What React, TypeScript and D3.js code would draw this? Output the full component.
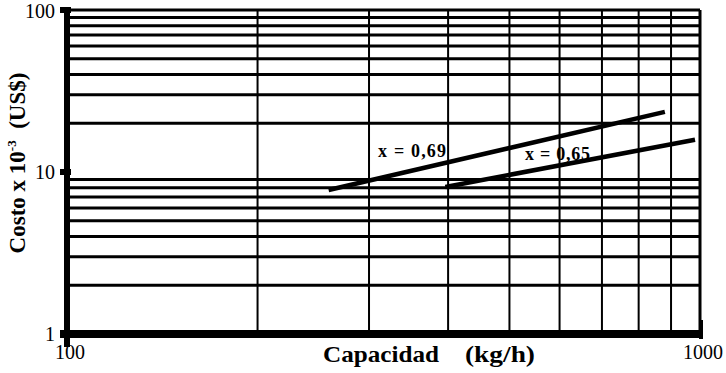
import React from 'react';
import * as d3 from 'd3';

// capacity (kg/h) vs cost x 10^-3 (US$), log-log
const xGrid = [200, 300, 400, 500, 600, 700, 800, 900, 1000];
const yGrid = [2, 3, 4, 5, 6, 7, 8, 9, 20, 30, 40, 50, 60, 70, 80, 90, 100];
const yTickLabels = [1, 10, 100];
const xTickLabels = [100, 1000];

const line69 = [[259, 7.74], [880, 23.5]];
const line65 = [[396, 8.08], [982, 15.8]];
const lineLabels = [
  {text: 'x = 0,69', at: [310, 12.4], len: 68},
  {text: 'x = 0,65', at: [529, 11.9], len: 65},
];

export default function App() {
  const W = 726, H = 373;
  const x = d3.scaleLog().domain([100, 1000]).range([67, 700]);
  const y = d3.scaleLog().domain([1, 100]).range([334, 10]);
  const line = d3.line<number[]>().x(d => x(d[0])).y(d => y(d[1]));
  const font = "'Liberation Serif', 'Times New Roman', serif";

  return (
    <svg width={W} height={H} style={{position: 'absolute', left: 0, top: 0, background: '#fff'}}
         fontFamily={font}>
      <rect width={W} height={H} fill="#fff"/>
      {/* vertical grid */}
      {xGrid.map(v => (
        <line key={'vx' + v} x1={x(v)} x2={x(v)} y1={y(100)} y2={y(1)}
              stroke="#000" strokeWidth={v === 1000 ? 3 : 2}/>
      ))}
      {/* horizontal grid */}
      {yGrid.map(v => (
        <line key={'hy' + v} x1={x(100)} x2={x(1000)} y1={y(v)} y2={y(v)}
              stroke="#000" strokeWidth={3}/>
      ))}
      {/* axes */}
      <line x1={x(100)} x2={x(100)} y1={y(100) - 3} y2={y(1) + 13} stroke="#000" strokeWidth={6}/>
      <line x1={x(100) - 7} x2={x(1000) + 3} y1={y(1)} y2={y(1)} stroke="#000" strokeWidth={8}/>
      <line x1={x(1000) + 1} x2={x(1000) + 1} y1={y(1) - 14} y2={y(1) + 5} stroke="#000" strokeWidth={4}/>
      {yTickLabels.map(v => (
        <g key={'yt' + v}>
          <line x1={x(100) - 7} x2={x(100) + 4} y1={y(v)} y2={y(v)} stroke="#000" strokeWidth={6}/>
          <text x={x(100) - 12} y={y(v) + (v === 100 ? 8 : 7)} textAnchor="end" fontSize={20}>{v}</text>
        </g>
      ))}
      {xTickLabels.map(v => (
        <text key={'xt' + v} x={x(v) + 3} y={y(1) + 25} textAnchor="middle" fontSize={20}>{v}</text>
      ))}
      {/* cost curves */}
      <path d={line(line69) ?? ''} stroke="#000" strokeWidth={4.5} fill="none"/>
      <path d={line(line65) ?? ''} stroke="#000" strokeWidth={4.5} fill="none"/>
      {lineLabels.map(l => (
        <text key={l.text} x={x(l.at[0])} y={y(l.at[1])} fontSize={18} fontWeight="bold"
              textLength={l.len} lengthAdjust="spacing">{l.text}</text>
      ))}
      {/* axis titles */}
      <text x={323} y={362} fontSize={24} fontWeight="bold" textLength={116} lengthAdjust="spacingAndGlyphs">Capacidad</text>
      <text x={465} y={362} fontSize={24} fontWeight="bold" textLength={70} lengthAdjust="spacingAndGlyphs">(kg/h)</text>
      <text transform={`translate(25,${163}) rotate(-90)`} textAnchor="middle" fontSize={23} fontWeight="bold">
        Costo x 10<tspan dy={-9} fontSize={13}>-3</tspan><tspan dy={9}>{'\u00a0\u00a0(US$)'}</tspan>
      </text>
    </svg>
  );
}
